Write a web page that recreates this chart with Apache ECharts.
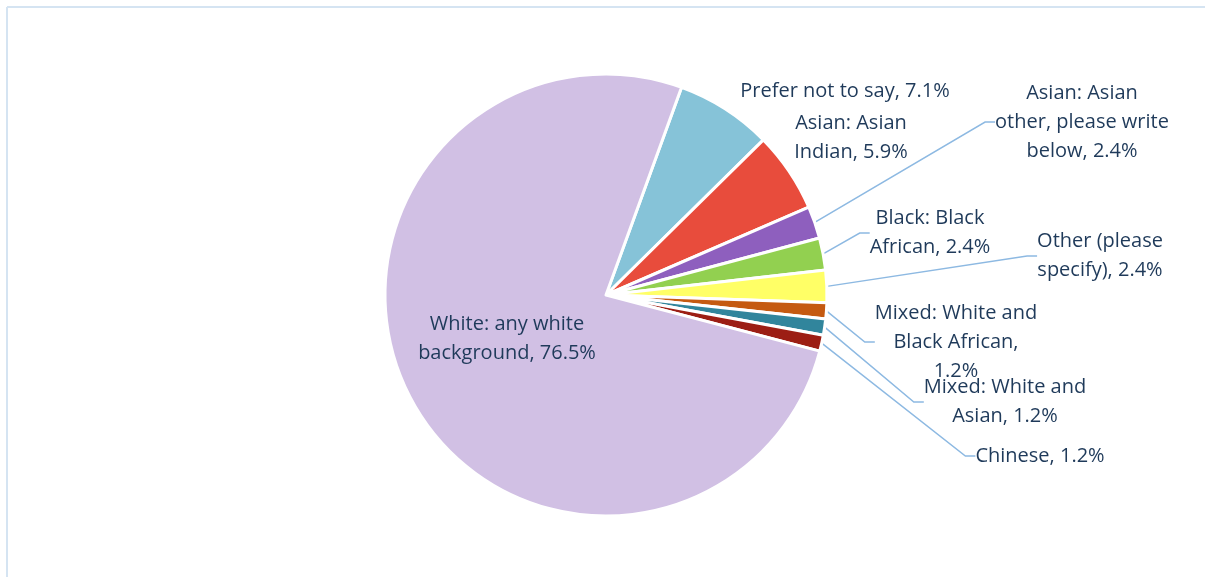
<!DOCTYPE html>
<html>
<head>
<meta charset="utf-8">
<script src="https://cdn.jsdelivr.net/npm/echarts@6/dist/echarts.min.js"></script>
<style>
  html, body { margin: 0; padding: 0; background: #fff; }
  #chart { width: 1205px; height: 577px; }
</style>
</head>
<body>
<div id="chart"></div>
<script>
// respondents per group (total 85)
const categories = [
  'Prefer not to say',
  'Asian: Asian Indian',
  'Asian: Asian other, please write below',
  'Black: Black African',
  'Other (please specify)',
  'Mixed: White and Black African',
  'Mixed: White and Asian',
  'Chinese',
  'White: any white background'
]
const counts = [6, 5, 2, 2, 2, 1, 1, 1, 65]
const colors = ['#86c3d8', '#e84c3c', '#8e5fbe', '#92d050', '#ffff66', '#c55a11', '#31859c', '#9c1e14', '#d1c0e4']

// how each label wraps (as in the original)
const labelWrap = [
  'Prefer not to say, ',
  'Asian: Asian\nIndian, ',
  'Asian: Asian\nother, please write\nbelow, ',
  'Black: Black\nAfrican, ',
  'Other (please\nspecify), ',
  'Mixed: White and\nBlack African,\n',
  'Mixed: White and\nAsian, ',
  'Chinese, ',
  'White: any white\nbackground, '
]
// label centres
const labelPos = [
  [845, 91], [851, 138], [1082, 122], [930, 233], [1100, 256],
  [956, 342], [1005, 402], [1040, 456], [507, 339]
]
const showLine = [false, false, true, true, true, true, true, true, false]

const total = counts.reduce((a, b) => a + b, 0)

let myEcharts = echarts.init(document.getElementById('chart'))
let option = {
  animation: false,
  graphic: [
    { type: 'line', shape: { x1: 7, y1: 7, x2: 1205, y2: 7 }, style: { stroke: '#d5e4f2', lineWidth: 2 } },
    { type: 'line', shape: { x1: 7, y1: 7, x2: 7, y2: 577 }, style: { stroke: '#d5e4f2', lineWidth: 2 } }
  ],
  series: [
    {
      type: 'pie',
      center: [606, 295],
      radius: 221,
      startAngle: 70,
      clockwise: true,
      data: categories.map((name, i) => ({
        name: name,
        value: counts[i],
        itemStyle: { color: colors[i] },
        labelLine: { show: showLine[i] }
      })),
      itemStyle: { borderColor: '#fff', borderWidth: 3 },
      label: {
        show: true,
        position: 'outside',
        color: '#1f3a5a',
        fontFamily: 'Open Sans',
        fontSize: 20,
        lineHeight: 29,
        align: 'center',
        formatter: function (p) {
          return labelWrap[p.dataIndex] + (p.value / total * 100).toFixed(1) + '%'
        }
      },
      labelLine: {
        show: true,
        length: 10,
        length2: 10,
        lineStyle: { color: '#8db9e2', width: 1.5 }
      },
      labelLayout: function (params) {
        const pos = labelPos[params.dataIndex]
        return { x: pos[0], y: pos[1], align: 'center', verticalAlign: 'middle' }
      }
    }
  ]
}
myEcharts.setOption(option)
</script>
</body>
</html>
